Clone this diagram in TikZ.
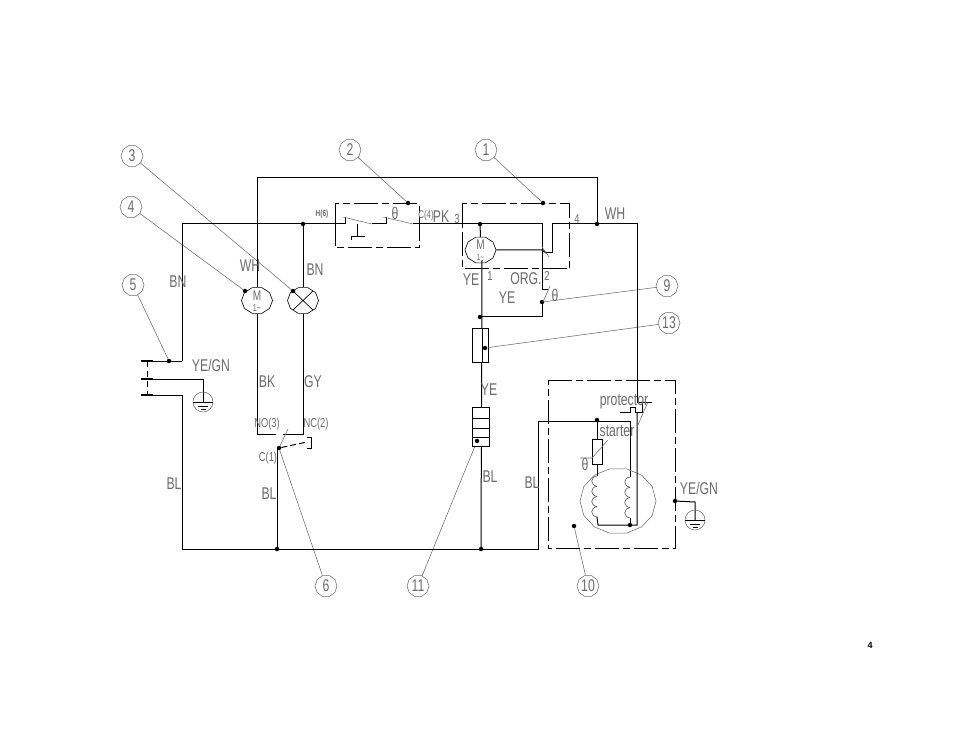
\documentclass[tikz,border=0pt]{standalone}
\usepackage{fontspec}
\newfontfamily\cadfont[FakeStretch=0.72]{Liberation Sans}
\newfontfamily\pagefont{Liberation Sans}
\usetikzlibrary{shapes,positioning}
\definecolor{cadgray}{gray}{0.42}
\tikzset{
  wire/.style={line width=1pt,black},
  thinline/.style={line width=0.55pt,cadgray},
  boxline/.style={line width=1pt,black,dash pattern=on 24pt off 4pt on 7pt off 4pt},
  lbl/.style={font=\cadfont\fontsize{17}{17}\selectfont,text=cadgray,inner sep=0pt},
  smalllbl/.style={font=\cadfont\fontsize{13}{13}\selectfont,text=cadgray,inner sep=0pt},
  balloon/.style={draw=cadgray,line width=0.55pt,regular polygon,regular polygon sides=10,minimum size=22pt,inner sep=0pt,
    font=\cadfont\fontsize{17}{17}\selectfont,text=cadgray},
  jdot/.style={circle,fill=black,minimum size=4.5pt,inner sep=0pt},
  sym/.style={draw=black,line width=0.6pt,regular polygon,regular polygon sides=10,minimum size=27pt,inner sep=0pt,xscale=1.15,transform shape},
  earth/.pic={
    \draw[thinline] (0,0) circle (10);
    \draw[wire] (-10,0) -- (10,0);
    \draw[wire] (-5,4) -- (5,4);
    \draw[wire] (-2.5,7) -- (2.5,7);
  }
}
\begin{document}
\begin{tikzpicture}[x=1pt,y=-1pt]
  \useasboundingbox (0,0) rectangle (954,738);

  % balloons
  \node[balloon] (b3) at (132,156) {3};
  \node[balloon] (b4) at (131,207) {4};
  \node[balloon] (b5) at (133,285) {5};
  \node[balloon] (b2) at (350,150) {2};
  \node[balloon] (b1) at (486,150) {1};
  \node[balloon] (b9) at (667,286) {9};
  \node[balloon] (b13) at (669,323) {13};
  \node[balloon] (b6) at (326,586) {6};
  \node[balloon] (b11) at (418,586) {11};
  \node[balloon] (b10) at (588,586) {10};

  % symbols
  \node[sym] (fanmotor) at (257,300.5) {};
  \node[sym] (lamp) at (303,300.5) {};
  \node[sym] (damper) at (480.5,250) {};
  \node[lbl,font=\cadfont\fontsize{14}{14}\selectfont] at (257,296) {M};
  \node[smalllbl,font=\cadfont\fontsize{10}{10}\selectfont] at (257,308) {1\textasciitilde};
  \node[lbl,font=\cadfont\fontsize{14}{14}\selectfont] at (480.5,245) {M};
  \node[smalllbl,font=\cadfont\fontsize{9}{9}\selectfont] at (480.5,257.5) {1\textasciitilde};
  \draw[wire,line width=0.7pt] (293,291) -- (313,310) (293,310) -- (313,291);

  % junction dots
  \node[jdot] (d3) at (293,291) {};
  \node[jdot] (d4) at (245,291) {};
  \node[jdot] (d5) at (169,361) {};
  \node[jdot] (d2) at (408,203) {};
  \node[jdot] (d1) at (543,203) {};
  \node[jdot] (d9) at (542,302) {};
  \node[jdot] (d13) at (485,348) {};
  \node[jdot] (d6) at (279,448) {};
  \node[jdot] (d11) at (477,441) {};
  \node[jdot] (d10) at (574,526) {};
  \node[jdot] (jbn) at (303,224) {};
  \node[jdot] (jfan) at (480,224) {};
  \node[jdot] (jwh) at (597,224) {};
  \node[jdot] (jye) at (480,317) {};
  \node[jdot] (jc) at (277,549) {};
  \node[jdot] (jbl) at (481,549) {};
  \node[jdot] (jst) at (597,420) {};
  \node[jdot] (jrun) at (630,525) {};
  \node[jdot] (jgnd) at (675,501) {};

  % leaders
  \draw[thinline] (b3) -- (d3);
  \draw[thinline] (b4) -- (d4);
  \draw[thinline] (b5) -- (d5);
  \draw[thinline] (b2) -- (d2);
  \draw[thinline] (b1) -- (d1);
  \draw[thinline] (b9) -- (d9);
  \draw[thinline] (b13) -- (d13);
  \draw[thinline] (b6) -- (d6);
  \draw[thinline] (b11) -- (d11);
  \draw[thinline] (b10) -- (d10);

  % dash-dot boxes
  \draw[boxline] (335,224) -- (335,204) -- (419,204) -- (419,248) -- (335,248) -- (335,224);
  \draw[boxline] (462.5,224) -- (462.5,204) -- (569.5,204) -- (569.5,269) -- (462.5,269) -- (462.5,224);
  \draw[boxline] (548,380) -- (675,380) -- (675,548) -- (548,548) -- (548,380);

  % main wires
  \draw[wire] (fanmotor.north) -- (257,178) -| (jwh.center);
  \draw[wire] (182,361) -- (182,224) -- (345,224) -- (345,217);
  \draw[wire] (jbn.center) -- (lamp.north);
  \draw[wire] (fanmotor.south) -- (257,434) -- (276,434);
  \draw[wire] (lamp.south) -- (303,434) -- (283,434);
  \draw[wire] (jc.center) -- (277,448) -- (d6);
  \draw[wire] (182,395) -- (182,549) -- (538,549) -- (538,421) -- (630,421) -- (630,477);
  \draw[wire] (386,217) -- (386,224) -- (372,224);
  \draw[wire] (413,224) -- (542,224) -- (542,290) -- (548,290);
  \draw[wire] (jwh.center) -- (552,224) -- (552,253) -- (546,253);
  \draw[wire] (jwh.center) -- (637,224) -- (637,402) -- (652,402);
  \draw[wire] (jfan.center) -- (damper.north);
  \draw[wire] (damper.east) -- (542,250) -- (546,253);
  \draw[wire] (482,260) -- (jbl.center);
  \draw[wire] (d9) -- (542,317) -- (jye.center);

  % bars and earth on the left
  \draw[wire] (153,361) -- (182,361);
  \draw[wire,line width=2pt] (141,361) -- (153,361);
  \draw[wire,line width=2pt] (141,379) -- (153,379);
  \draw[wire,line width=2pt] (141,395) -- (153,395);
  \draw[wire,dash pattern=on 6pt off 4pt] (147,361) -- (147,395);
  \draw[wire] (153,379) -- (203,379) -- (203,402);
  \draw[wire] (153,395) -- (182,395);
  \pic at (203,402) {earth};

  % door switch
  \draw[thinline] (288,429) -- (d6);
  \draw[wire,dash pattern=on 6pt off 3pt] (d6) -- (307,442);
  \draw[wire] (307,437) -- (311,437) -- (311,448) -- (307,448);

  % thermostat switch in box 2
  \draw[thinline] (343,217) -- (372,224);
  \draw[thinline] (383,217) -- (413,224);
  \draw[wire] (357,224) -- (357,237);
  \draw[wire] (365,237) -- (351,237) -- (351,240);

  % relay contacts
  \draw[thinline] (542,247) -- (549,257);
  \draw[thinline] (543,302) -- (550,286);

  % fuse and connector
  \draw[wire,fill=white] (472,329) rectangle (488,362);
  \draw[wire] (482,329) -- (482,362);
  \draw[wire,fill=white] (472,407) rectangle (489,446);
  \draw[wire] (472,418) -- (489,418) (472,428) -- (489,428) (472,437) -- (489,437);
  \node[jdot] at (d13) {};
  \node[jdot] at (d11) {};

  % compressor
  \draw[thinline] plot[samples=15,domain=0:360] ({618+38*cos(\x)},{501+33*sin(\x)});
  \draw[wire] (jst.center) -- (597,439);
  \draw[wire] (592,439) rectangle (602,464);
  \draw[wire] (597,464) -- (597,476);
  \foreach \i in {0,1,2,3}{
    \draw[thinline,cadgray!60!black] (597,476+\i*10.25) .. controls (590,477+\i*10.25) and (590,485+\i*10.25) .. (597,486.25+\i*10.25);
    \draw[thinline,cadgray!60!black] (630,477+\i*10.25) .. controls (623,478+\i*10.25) and (623,486+\i*10.25) .. (630,487.25+\i*10.25);
  }
  \draw[wire] (597,517) -- (598,525) -- (637,525) -- (637,412);
  \draw[wire] (630,518) -- (jrun.center);
  \draw[wire] (620,412) -- (630,412) -- (630,407) -- (635,407) -- (635,412) -- (642,412) -- (642,402);
  \draw[thinline] (648,402) -- (637,427);
  \draw[thinline] (580,458) -- (592,458) -- (608,440);
  \draw[wire] (jgnd.center) -- (695,502) -- (695,520);
  \pic at (695,520) {earth};

  % labels
  \node[lbl] at (250,266) {WH};
  \node[lbl] at (315,270) {BN};
  \node[lbl] at (178,282) {BN};
  \node[lbl] at (211,365) {YE/GN};
  \node[lbl] at (267,382) {BK};
  \node[lbl] at (313,382) {GY};
  \node[smalllbl] at (267,424) {NO(3)};
  \node[smalllbl] at (316,424) {NC(2)};
  \node[smalllbl] at (268,458) {C(1)};
  \node[lbl] at (174,484) {BL};
  \node[lbl] at (269,494) {BL};
  \node[smalllbl,font=\cadfont\bfseries\fontsize{9}{9}\selectfont] at (322,214) {H(6)};
  \node[smalllbl,font=\cadfont\fontsize{11}{11}\selectfont] at (426,216) {C(4)};
  \node[lbl] at (441,217) {PK};
  \node[smalllbl] at (457,219) {3};
  \node[smalllbl] at (577,219) {4};
  \node[smalllbl] at (490,276) {1};
  \node[smalllbl] at (547,276) {2};
  \node[lbl] at (471,280) {YE};
  \node[lbl] at (526,279) {ORG.};
  \node[lbl] at (507,298) {YE};
  \node[lbl] at (555,295) {θ};
  \node[lbl] at (395,213) {θ};
  \node[lbl] at (585,464) {θ};
  \node[lbl] at (489,390) {YE};
  \node[lbl] at (490,477) {BL};
  \node[lbl] at (532,483) {BL};
  \node[lbl] at (615,214) {WH};
  \node[lbl] at (624,402) {protector};
  \node[lbl] at (617,431) {starter};
  \node[lbl] at (699,488) {YE/GN};
  \node[font=\pagefont\bfseries\fontsize{9}{9}\selectfont,inner sep=0pt] at (870,645) {4};
\end{tikzpicture}
\end{document}
